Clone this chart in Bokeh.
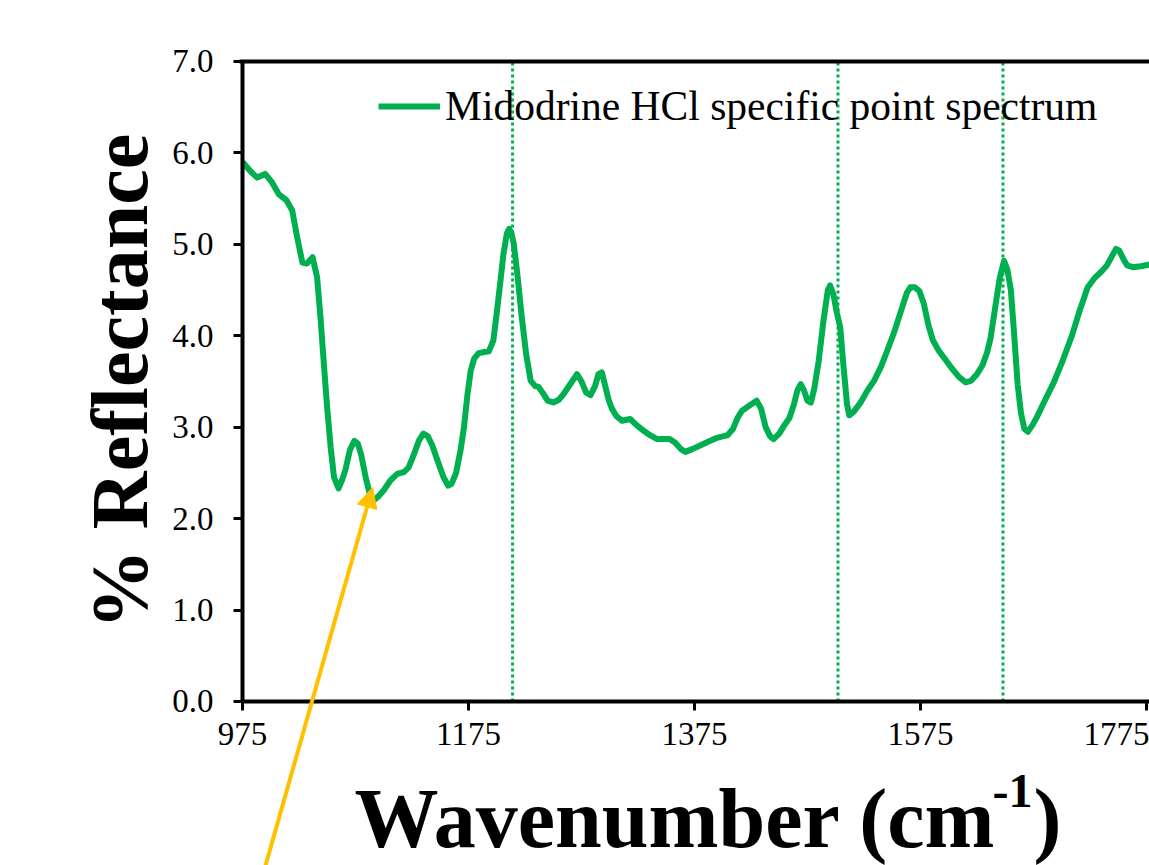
import math
from bokeh.plotting import figure
from bokeh.models import (Range1d, FixedTicker, LinearAxis, Label, Arrow,
                          NormalHead, Legend, LegendItem, PrintfTickFormatter)
from bokeh.embed import file_html
from bokeh.resources import INLINE

# ---------------- data ----------------
wavenumber = [975, 982, 988, 995, 1001, 1007, 1014, 1019, 1023, 1028, 1032, 1037, 1041, 1044,
              1047, 1050, 1053, 1056, 1060, 1063, 1066, 1070, 1074, 1077, 1080, 1084, 1088,
              1091, 1095, 1100, 1106, 1112, 1118, 1122, 1126, 1131, 1135, 1139, 1143, 1148,
              1153, 1157, 1160, 1164, 1168, 1171, 1174, 1177, 1180, 1184, 1188, 1193, 1197,
              1200, 1203, 1206, 1209, 1211, 1213, 1215, 1218, 1222, 1226, 1230, 1234, 1237,
              1241, 1245, 1250, 1255, 1259, 1265, 1271, 1275, 1279, 1283, 1287, 1290, 1293,
              1296, 1299, 1302, 1306, 1311, 1318, 1324, 1330, 1336, 1342, 1348, 1353, 1358,
              1363, 1367, 1373, 1380, 1387, 1394, 1400, 1404, 1409, 1413, 1417, 1424, 1430,
              1434, 1438, 1442, 1445, 1450, 1455, 1459, 1463, 1466, 1469, 1472, 1475, 1478,
              1481, 1485, 1489, 1493, 1495, 1498, 1501, 1504, 1507, 1510, 1512, 1516, 1522,
              1528, 1534, 1540, 1546, 1552, 1558, 1563, 1566, 1570, 1574, 1578, 1582, 1586,
              1591, 1597, 1603, 1609, 1615, 1620, 1625, 1630, 1634, 1637, 1641, 1645, 1649,
              1652, 1655, 1658, 1661, 1664, 1667, 1670, 1674, 1678, 1685, 1693, 1700, 1709,
              1716, 1723, 1729, 1735, 1740, 1744, 1748, 1751, 1755, 1758, 1763, 1770, 1778]
reflectance = [5.90, 5.80, 5.73, 5.77, 5.68, 5.55, 5.48, 5.37, 5.10, 4.80, 4.79, 4.86, 4.64, 4.20,
               3.69, 3.20, 2.78, 2.45, 2.33, 2.42, 2.53, 2.75, 2.85, 2.82, 2.70, 2.45, 2.25,
               2.20, 2.24, 2.31, 2.42, 2.49, 2.51, 2.56, 2.68, 2.85, 2.93, 2.90, 2.80, 2.62,
               2.45, 2.36, 2.38, 2.50, 2.75, 3.00, 3.35, 3.62, 3.75, 3.81, 3.82, 3.83, 3.95,
               4.25, 4.57, 4.90, 5.12, 5.17, 5.12, 5.01, 4.70, 4.22, 3.80, 3.51, 3.45, 3.44,
               3.37, 3.29, 3.27, 3.30, 3.36, 3.47, 3.58, 3.50, 3.38, 3.35, 3.45, 3.58, 3.60,
               3.45, 3.30, 3.20, 3.12, 3.07, 3.09, 3.02, 2.96, 2.91, 2.87, 2.87, 2.87, 2.83,
               2.76, 2.73, 2.76, 2.80, 2.84, 2.88, 2.90, 2.91, 2.98, 3.10, 3.18, 3.24, 3.29,
               3.20, 3.00, 2.90, 2.87, 2.93, 3.03, 3.10, 3.25, 3.40, 3.47, 3.40, 3.29, 3.27,
               3.42, 3.73, 4.15, 4.50, 4.55, 4.45, 4.25, 4.09, 3.65, 3.25, 3.13, 3.17, 3.27,
               3.40, 3.51, 3.66, 3.85, 4.05, 4.28, 4.47, 4.53, 4.53, 4.49, 4.35, 4.12, 3.95,
               3.84, 3.74, 3.64, 3.55, 3.49, 3.51, 3.58, 3.68, 3.82, 3.97, 4.30, 4.62, 4.82,
               4.72, 4.50, 4.00, 3.47, 3.15, 2.98, 2.95, 3.02, 3.11, 3.29, 3.49, 3.70, 4.00,
               4.28, 4.53, 4.63, 4.70, 4.77, 4.86, 4.95, 4.93, 4.83, 4.77, 4.75, 4.76, 4.78]
marker_lines = [1214, 1502, 1648]
x_ticks = [975, 1175, 1375, 1575, 1775]
y_ticks = [0, 1, 2, 3, 4, 5, 6, 7]
legend_label = "Midodrine HCl specific point spectrum"
y_title = "% Reflectance"
x_title_main = "Wavenumber (cm"
x_title_sup = "-1"
x_title_end = ")"
arrow_start = (994.1, -1.85)
arrow_end = (1090.1, 2.34)

GREEN = "#00B050"
ORANGE = "#FFC000"
FONT = "Liberation Serif"
X_MIN, X_MAX = 975, 1778
Y_MIN, Y_MAX = y_ticks[0], y_ticks[-1]

# frame covers the whole canvas; axes are pinned at fixed data locations
p = figure(width=1149, height=865, output_backend="svg", toolbar_location=None,
           x_range=Range1d(760.8, 1777.7), y_range=Range1d(-1.794, 7.667), title=None,
           min_border_left=0, min_border_right=0, min_border_top=0, min_border_bottom=0)
p.grid.visible = False
p.outline_line_color = None
p.background_fill_color = "white"
p.border_fill_color = "white"

for ax in (p.xaxis[0], p.yaxis[0]):
    ax.axis_line_width = 4
    ax.axis_line_color = "black"
    ax.major_tick_line_width = 3
    ax.major_tick_line_color = "black"
    ax.major_tick_out = 9
    ax.major_tick_in = 0
    ax.minor_tick_line_color = None
    ax.major_label_text_font = FONT
    ax.major_label_text_font_size = "33px"
    ax.major_label_text_color = "black"

p.xaxis[0].ticker = FixedTicker(ticks=x_ticks)
p.xaxis[0].major_label_standoff = 13
p.xaxis[0].fixed_location = Y_MIN
p.xaxis[0].bounds = (X_MIN, X_MAX)
p.yaxis[0].ticker = FixedTicker(ticks=y_ticks)
p.yaxis[0].fixed_location = X_MIN
p.yaxis[0].bounds = (Y_MIN, Y_MAX)
p.yaxis[0].formatter = PrintfTickFormatter(format="%.1f")
p.yaxis[0].major_label_standoff = 20

top_axis = LinearAxis(ticker=FixedTicker(ticks=[]), axis_line_width=4, axis_line_color="black",
                      major_tick_line_color=None, minor_tick_line_color=None,
                      major_label_text_font_size="0px", fixed_location=Y_MAX,
                      bounds=(X_MIN - 3, X_MAX))
p.add_layout(top_axis, "above")

p.segment(x0=marker_lines, y0=[Y_MIN] * len(marker_lines), x1=marker_lines,
          y1=[Y_MAX] * len(marker_lines), line_color=GREEN, line_width=3, line_dash="3 3")

r = p.line(x=wavenumber, y=reflectance, line_color=GREEN, line_width=6, line_join="round")

legend = Legend(items=[LegendItem(label=legend_label, renderers=[r])], location=(378, 735),
                border_line_color=None, background_fill_alpha=0, padding=0, margin=0,
                glyph_width=62, glyph_height=40, label_standoff=5,
                label_text_font=FONT, label_text_font_size="41.5px", label_text_color="black")
p.add_layout(legend)

p.add_layout(Arrow(end=NormalHead(size=20, fill_color=ORANGE, line_color=ORANGE),
                   x_start=arrow_start[0], y_start=arrow_start[1],
                   x_end=arrow_end[0], y_end=arrow_end[1],
                   line_color=ORANGE, line_width=4))

# axis titles
p.add_layout(Label(x=866.2, y=3.5, text=y_title, angle=math.pi / 2, text_font=FONT,
                   text_font_size="80px", text_font_style="bold", text_baseline="alphabetic",
                   text_align="center", text_color="black"))
p.add_layout(Label(x=1074, y=-1.28, text=x_title_main, text_font=FONT, text_font_size="84px",
                   text_font_style="bold", text_baseline="alphabetic", text_align="left",
                   text_color="black"))
p.add_layout(Label(x=1638.7, y=-0.984, text=x_title_sup, text_font=FONT, text_font_size="48px",
                   text_font_style="bold", text_baseline="alphabetic", text_align="left",
                   text_color="black"))
p.add_layout(Label(x=1675, y=-1.28, text=x_title_end, text_font=FONT, text_font_size="84px",
                   text_font_style="bold", text_baseline="alphabetic", text_align="left",
                   text_color="black"))

open("out.html", "w").write(file_html(p, INLINE))
